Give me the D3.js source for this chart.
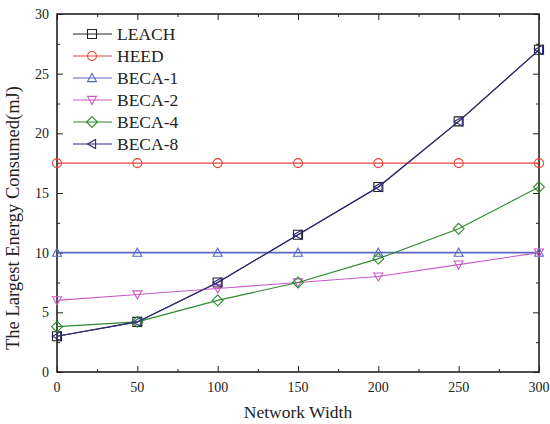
<!DOCTYPE html>
<html>
<head>
<meta charset="utf-8">
<script src="https://cdn.jsdelivr.net/npm/d3@7"></script>
<style>
body { margin: 0; background: #fff; }
text { font-family: "Liberation Serif", "Times New Roman", serif; fill: #222; }
</style>
</head>
<body>
<div id="plothere"></div>
<script>
var widths = [0, 50, 100, 150, 200, 250, 300];
var leach = [3, 4.2, 7.5, 11.5, 15.5, 21, 27];
var heed = [17.5, 17.5, 17.5, 17.5, 17.5, 17.5, 17.5];
var beca1 = [10, 10, 10, 10, 10, 10, 10];
var beca2 = [6, 6.5, 7, 7.5, 8, 9, 10];
var beca4 = [3.8, 4.2, 6, 7.5, 9.5, 12, 15.5];
var beca8 = [3, 4.2, 7.5, 11.5, 15.5, 21, 27];
var xTicks = [0, 50, 100, 150, 200, 250, 300];
var yTicks = [0, 5, 10, 15, 20, 25, 30];

var series = [
  {name: "LEACH", vals: leach, color: "#222222", sym: "square"},
  {name: "HEED", vals: heed, color: "#e8453c", sym: "circle"},
  {name: "BECA-1", vals: beca1, color: "#5868c0", sym: "up"},
  {name: "BECA-2", vals: beca2, color: "#c85ac8", sym: "down"},
  {name: "BECA-4", vals: beca4, color: "#2a8a2a", sym: "diamond"},
  {name: "BECA-8", vals: beca8, color: "#2f2b7e", sym: "left"}
];

var margin = {top: 14, right: 11, bottom: 52, left: 57},
    width = 550 - margin.left - margin.right,
    height = 424 - margin.top - margin.bottom;

var svg = d3.select("#plothere")
  .append("svg")
  .attr("width", 550)
  .attr("height", 424)
  .append("g")
  .attr("transform", "translate(" + margin.left + "," + margin.top + ")");

var x = d3.scaleLinear().domain([0, 300]).range([0, width]);
var y = d3.scaleLinear().domain([0, 30]).range([height, 0]);

function marker(sym, r) {
  if (sym == "square") return "M" + (-r) + "," + (-r) + "H" + r + "V" + r + "H" + (-r) + "Z";
  if (sym == "circle") return d3.symbol().type(d3.symbolCircle).size(Math.PI * r * r)();
  if (sym == "up") return "M0," + (-r) + "L" + r + "," + (r * 0.8) + "H" + (-r) + "Z";
  if (sym == "down") return "M0," + r + "L" + r + "," + (-r * 0.8) + "H" + (-r) + "Z";
  if (sym == "diamond") return "M0," + (-r * 1.2) + "L" + (r * 1.2) + ",0L0," + (r * 1.2) + "L" + (-r * 1.2) + ",0Z";
  if (sym == "left") return "M" + (-r) + ",0L" + (r * 0.8) + "," + (-r) + "V" + r + "Z";
}

// axes, ticks inward on all four sides
var minorX = d3.range(0, 301, 25), minorY = d3.range(0, 30.1, 2.5);
function tickLen(v, step) { return (Math.abs(v / step - Math.round(v / step)) < 1e-6) ? 6 : 3; }

svg.append("g").attr("transform", "translate(0," + height + ")")
  .call(d3.axisBottom(x).tickValues(minorX).tickSize(0).tickFormat(""))
  .call(function(g) { g.select(".domain").remove(); g.selectAll(".tick line").attr("y2", function(d) { return -tickLen(d, 50); }).attr("stroke", "#222"); });
svg.append("g")
  .call(d3.axisTop(x).tickValues(minorX).tickSize(0).tickFormat(""))
  .call(function(g) { g.select(".domain").remove(); g.selectAll(".tick line").attr("y2", function(d) { return tickLen(d, 50); }).attr("stroke", "#222"); });
svg.append("g")
  .call(d3.axisLeft(y).tickValues(minorY).tickSize(0).tickFormat(""))
  .call(function(g) { g.select(".domain").remove(); g.selectAll(".tick line").attr("x2", function(d) { return tickLen(d, 5); }).attr("stroke", "#222"); });
svg.append("g").attr("transform", "translate(" + width + ",0)")
  .call(d3.axisRight(y).tickValues(minorY).tickSize(0).tickFormat(""))
  .call(function(g) { g.select(".domain").remove(); g.selectAll(".tick line").attr("x2", function(d) { return -tickLen(d, 5); }).attr("stroke", "#222"); });

svg.append("rect").attr("width", width).attr("height", height)
  .attr("fill", "none").attr("stroke", "#222").attr("stroke-width", 1.6);

// tick labels
svg.append("g").selectAll("text").data(xTicks).enter().append("text")
  .attr("x", function(d) { return x(d); }).attr("y", height + 20)
  .attr("text-anchor", "middle").style("font-size", "14px").text(function(d) { return d; });
svg.append("g").selectAll("text").data(yTicks).enter().append("text")
  .attr("x", -8).attr("y", function(d) { return y(d) + 5; })
  .attr("text-anchor", "end").style("font-size", "14px").text(function(d) { return d; });

svg.append("text").attr("x", width / 2).attr("y", height + 46)
  .attr("text-anchor", "middle").style("font-size", "17.5px").text("Network Width");
svg.append("text").attr("transform", "translate(-38," + (height / 2 + 25) + ") rotate(-90)")
  .attr("text-anchor", "middle").style("font-size", "18.5px").text("The Largest Energy Consumed(mJ)");

var line = d3.line().x(function(d, i) { return x(widths[i]); }).y(function(d) { return y(d); });

series.forEach(function(s) {
  svg.append("path").attr("d", line(s.vals))
    .attr("fill", "none").attr("stroke", s.color).attr("stroke-width", s.name == "BECA-1" ? 1.6 : 1.1);
  svg.append("g").selectAll("path").data(s.vals).enter().append("path")
    .attr("d", marker(s.sym, 4.5))
    .attr("transform", function(d, i) { return "translate(" + x(widths[i]) + "," + y(d) + ")"; })
    .attr("fill", "none").attr("stroke", s.color).attr("stroke-width", 1.1);
});

// legend
var leg = svg.append("g");
series.forEach(function(s, i) {
  var yy = 20 + i * 22;
  leg.append("line").attr("x1", 16).attr("x2", 55).attr("y1", yy).attr("y2", yy)
    .attr("stroke", s.color).attr("stroke-width", 1.2);
  leg.append("path").attr("d", marker(s.sym, 4.5)).attr("transform", "translate(35," + yy + ")")
    .attr("fill", "none").attr("stroke", s.color).attr("stroke-width", 1.1);
  leg.append("text").attr("x", 60).attr("y", yy + 6).style("font-size", "17.5px").text(s.name);
});
</script>
</body>
</html>
